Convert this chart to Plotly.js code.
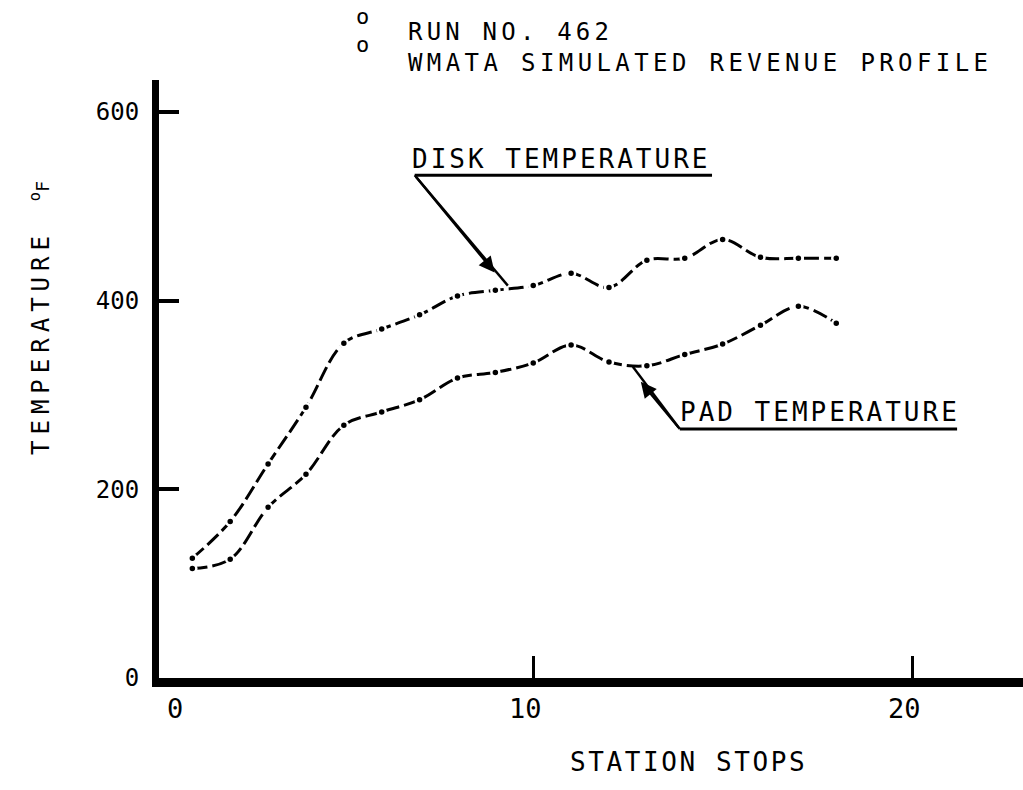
<!DOCTYPE html>
<html>
<head>
<meta charset="utf-8">
<script src="https://cdn.plot.ly/plotly-3.0.1.min.js"></script>
<style>html,body{margin:0;padding:0;background:#fff;}</style>
</head>
<body>
<div id="chart" style="width:1023px;height:790px;"></div>
<script>
// ---- data ----
const stationStops = [1, 2, 3, 4, 5, 6, 7, 8, 9, 10, 11, 12, 13, 14, 15, 16, 17, 18];
const diskTemp = [127, 166, 227, 287, 355, 370, 385, 405, 411, 416, 429, 414, 443, 445, 465, 446, 445, 445];
const padTemp  = [116, 126, 181, 216, 268, 282, 295, 318, 324, 334, 353, 335, 331, 343, 354, 374, 394, 376];
const yTickVals = [0, 200, 400, 600];
const yTickText = ['0', '200', '400', '600'];
const xTickVals = [0, 10, 20];
const xTickText = ['0', '10', '20'];
const titleLines = ['RUN NO. 462', 'WMATA SIMULATED REVENUE PROFILE'];
const diskLabel = 'DISK TEMPERATURE';
const padLabel = 'PAD TEMPERATURE';
const xTitle = 'STATION STOPS';
const yTitle = 'TEMPERATURE';

// ---- layout helpers ----
const FONT = 'DejaVu Sans Mono';
const M = {l: 159, r: 0, t: 80, b: 112};
const PW = 1023 - M.l - M.r, PH = 790 - M.t - M.b;
const XMIN = 0.12, XMAX = 22.93;
const px = x => (x - M.l) / PW;
const py = y => (790 - M.b - y) / PH;
const xToPaper = v => (v - XMIN) / (XMAX - XMIN);
const sp = (s, ls) => '<span style="letter-spacing:' + ls + 'px">' + s + '</span>';

const lineStyle = {color: '#000', width: 3, dash: '15px,5px', shape: 'spline', smoothing: 1};
const markerStyle = {color: '#000', size: 8, line: {color: '#fff', width: 2.5}};

const traces = [
  {x: stationStops, y: diskTemp, type: 'scatter', mode: 'lines+markers', name: diskLabel,
   line: lineStyle, marker: markerStyle, cliponaxis: false, hoverinfo: 'skip'},
  {x: stationStops, y: padTemp, type: 'scatter', mode: 'lines+markers', name: padLabel,
   line: lineStyle, marker: markerStyle, cliponaxis: false, hoverinfo: 'skip'}
];

const annotations = [];
// bullets
[16, 44].forEach(yy => {
  annotations.push({xref: 'paper', yref: 'paper', x: px(362), y: py(yy), text: 'o', showarrow: false,
    font: {family: FONT, size: 22, color: '#000'}, xanchor: 'center', yanchor: 'middle'});
});
// x tick labels (paper positions derived from tick values)
xTickVals.forEach((v, i) => {
  annotations.push({xref: 'paper', yref: 'paper', x: Math.max(0, xToPaper(v)), y: py(708), text: xTickText[i], showarrow: false,
    xshift: v === 0 ? 16 : -8, font: {family: FONT, size: 27, color: '#000'},
    xanchor: 'center', yanchor: 'middle'});
});
// axis titles
annotations.push({xref: 'paper', yref: 'paper', x: px(688), y: py(762), text: sp(xTitle, 2.6), showarrow: false,
  font: {family: FONT, size: 26, color: '#000'}, xanchor: 'center', yanchor: 'middle'});
annotations.push({xref: 'paper', yref: 'paper', x: px(40), y: py(318),
  text: sp(yTitle, 6) + '  <span style="font-size:22px"><sup>o</sup></span><span style="font-size:18px">F</span>', showarrow: false,
  textangle: -90, font: {family: FONT, size: 24, color: '#000'}, xanchor: 'center', yanchor: 'middle'});
// curve labels
annotations.push({xref: 'paper', yref: 'paper', x: px(410), y: py(159), text: sp(diskLabel, 3), showarrow: false,
  font: {family: FONT, size: 26, color: '#000'}, xanchor: 'left', yanchor: 'middle'});
annotations.push({xref: 'paper', yref: 'paper', x: px(678), y: py(412), text: sp(padLabel, 3), showarrow: false,
  font: {family: FONT, size: 26, color: '#000'}, xanchor: 'left', yanchor: 'middle'});
// arrowheads on the leader lines
annotations.push({xref: 'x', yref: 'y', axref: 'x', ayref: 'y', x: 8.98, y: 430, ax: 6.87, ay: 533,
  text: '', showarrow: true, arrowhead: 2, arrowsize: 1.3, arrowwidth: 2.4, arrowcolor: '#000'});
annotations.push({xref: 'x', yref: 'y', axref: 'x', ayref: 'y', x: 12.84, y: 314, ax: 13.87, ay: 264,
  text: '', showarrow: true, arrowhead: 2, arrowsize: 1.3, arrowwidth: 2.4, arrowcolor: '#000'});

const shapes = [
  // disk leader + underline
  {type: 'line', xref: 'x', yref: 'y', x0: 6.87, y0: 533, x1: 14.72, y1: 533, line: {color: '#000', width: 3}},
  {type: 'line', xref: 'x', yref: 'y', x0: 6.87, y0: 533, x1: 9.33, y1: 416, line: {color: '#000', width: 2.4}},
  // pad leader + underline
  {type: 'line', xref: 'x', yref: 'y', x0: 13.87, y0: 264, x1: 21.19, y1: 264, line: {color: '#000', width: 3}},
  {type: 'line', xref: 'x', yref: 'y', x0: 13.87, y0: 264, x1: 12.63, y1: 330, line: {color: '#000', width: 2.4}}
];

const layout = {
  width: 1023, height: 790,
  margin: M,
  paper_bgcolor: '#fff', plot_bgcolor: '#fff',
  showlegend: false,
  font: {family: FONT, color: '#000'},
  title: {
    text: sp(titleLines[0], 4.2) + '<br>' + sp(titleLines[1], 4.4),
    xref: 'container', yref: 'container', x: 408 / 1023, y: 1 - 40 / 790,
    xanchor: 'left', yanchor: 'middle',
    font: {family: FONT, size: 24, color: '#000'}
  },
  xaxis: {
    range: [XMIN, XMAX], showgrid: false, zeroline: false,
    showline: true, linewidth: 9, linecolor: '#000',
    ticks: 'inside', tickvals: [10, 20], ticklen: 22, tickwidth: 3, tickcolor: '#000',
    showticklabels: false, fixedrange: true
  },
  yaxis: {
    range: [0, 634], showgrid: false, zeroline: false,
    showline: true, linewidth: 7, linecolor: '#000',
    ticks: 'inside', tickvals: yTickVals, ticktext: yTickText, ticklen: 20, tickwidth: 4, tickcolor: '#000',
    tickfont: {family: FONT, size: 24, color: '#000'}, ticklabelstandoff: 8, fixedrange: true
  },
  annotations: annotations,
  shapes: shapes
};

Plotly.newPlot('chart', traces, layout, {staticPlot: true, displayModeBar: false});
</script>
</body>
</html>
